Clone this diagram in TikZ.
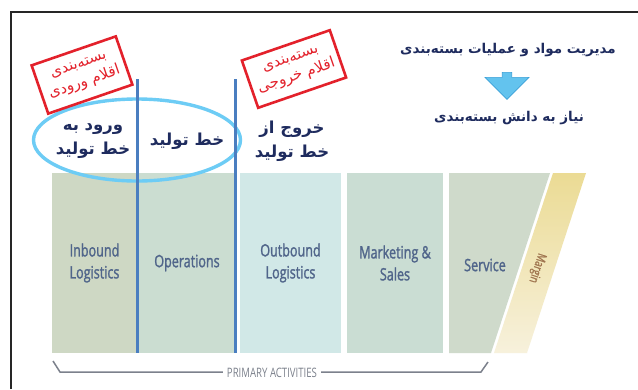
\documentclass[tikz,border=0pt]{standalone}
\usepackage{fontspec}
\TeXXeTstate=1
\newfontfamily\fa[Script=Arabic]{DejaVu Sans}
\newfontfamily\lat[FakeStretch=0.74,FakeBold=1.5]{Open Sans}
\newfontfamily\latb[FakeStretch=0.74]{Open Sans}
\definecolor{navy}{HTML}{1E2B5E}
\definecolor{stampred}{HTML}{E3212B}
\definecolor{ellblue}{HTML}{6DCCF5}
\definecolor{lineblue}{HTML}{4A7EC0}
\definecolor{cinb}{HTML}{CED8C4}
\definecolor{cops}{HTML}{CBDDD1}
\definecolor{cout}{HTML}{D1E8E7}
\definecolor{cmkt}{HTML}{CADDD3}
\definecolor{csrv}{HTML}{CFDACB}
\definecolor{labblue}{HTML}{50658A}
\definecolor{arrfill}{HTML}{63C3EE}
\definecolor{arrline}{HTML}{3AA0D8}
\definecolor{bandtop}{HTML}{EBDB94}
\definecolor{bandbot}{HTML}{F7F1DC}
\definecolor{margtext}{HTML}{A07650}
\definecolor{pagray}{HTML}{7C818C}
\usetikzlibrary{shapes.arrows,shapes.geometric}
\begin{document}
\begin{tikzpicture}[x=1pt,y=-1pt,
  colbox/.style={draw=none,inner sep=0pt,minimum height=180pt,align=center,
    text=labblue,font=\lat\fontsize{17}{22}\selectfont},
  falabel/.style={align=center,text=navy,inner sep=1pt,
    font=\fa\bfseries\fontsize{16.5}{24}\selectfont},
  fahead/.style={align=center,text=navy,inner sep=1pt,
    font=\fa\bfseries\fontsize{13.5}{18}\selectfont},
  stamp/.style={draw=stampred,line width=2.6pt,text=stampred,align=center,
    rotate=19,inner sep=0pt,font=\fa\fontsize{15}{19}\selectfont},
  divider/.style={draw=lineblue,line width=2.6pt},
  bracket/.style={draw=pagray,line width=1.5pt}
]
\useasboundingbox (0,0) rectangle (638,389);
\fill[white] (0,0) rectangle (638,389);
% frame
\draw[line width=2.2pt,color=black!85] (11,389) -- (11,12) -- (638,12);

% columns
\node[colbox,fill=cinb,minimum width=85pt] (inb) at (94.5,263) {Inbound\\Logistics};
\node[colbox,fill=cops,minimum width=96pt] (ops) at (187,263) {Operations};
\node[colbox,fill=cout,minimum width=101pt] (outb) at (290.5,263) {Outbound\\Logistics};
\node[colbox,fill=cmkt,minimum width=96pt] (mkt) at (395,263) {Marketing \&\\Sales};
\fill[csrv] (449,173) -- (550,173) -- (491,353) -- (449,353) -- cycle;
\node[colbox,minimum height=0pt] (srv) at (485,265) {Service};
\shade[top color=bandtop,bottom color=bandbot] (553,173) -- (586,173) -- (527,353) -- (494,353) -- cycle;
\node[rotate=-108,text=margtext,inner sep=0pt,font=\lat\fontsize{12.5}{13}\selectfont] (marg) at (537,268) {Margin};

% primary activities bracket
\node[text=pagray,font=\latb\fontsize{13}{14}\selectfont,inner sep=4pt] (pa) at (272,373) {PRIMARY ACTIVITIES};
\coordinate (bl1) at (53,361);
\coordinate (bl2) at (60,372);
\coordinate (br1) at (481,372);
\coordinate (br2) at (488,362);
\draw[bracket] (bl1) -- (bl2) -- (pa.west |- bl2);
\draw[bracket] (pa.east |- br1) -- (br1) -- (br2);

% ellipse
\node[draw=ellblue,line width=3.4pt,ellipse,minimum width=207pt,minimum height=82pt,inner sep=0pt] (ell) at (137,140) {};

% dividers
\coordinate (d1t) at (137.5,79);
\coordinate (d1b) at (137.5,353);
\coordinate (d2t) at (235.5,79);
\coordinate (d2b) at (235.5,353);
\draw[divider] (d1t) -- (d1b);
\draw[divider] (d2t) -- (d2b);

% Persian labels
\node[falabel] (l1) at (93,141) {\beginR ورود به\endR\\\beginR خط تولید\endR};
\node[falabel] (l2) at (187,141) {\beginR خط تولید\endR};
\node[falabel] (l3) at (292,141) {\beginR خروج از\endR\\\beginR خط تولید\endR};

% stamps
\node[stamp,minimum width=89pt,minimum height=51pt] (s1) at (82,75)
  {\beginR بسته^^^^200cبندی\endR\\\beginR اقلام ورودی\endR};
\node[stamp,minimum width=93pt,minimum height=50pt] (s2) at (294,69)
  {\beginR بسته^^^^200cبندی\endR\\\beginR اقلام خروجی\endR};

% right top texts and arrow
\node[fahead] (h1) at (508,50) {\beginR مدیریت مواد و عملیات بسته^^^^200cبندی\endR};
\node[fahead] (h2) at (509,118) {\beginR نیاز به دانش بسته^^^^200cبندی\endR};
\node[single arrow,shape border rotate=270,fill=arrfill,draw=arrline,line width=0.6pt,
  minimum width=44pt,single arrow head extend=12pt,minimum height=27pt,inner sep=3pt,
  single arrow head indent=0pt] (arr) at (507,83.5) {};
\end{tikzpicture}
\end{document}
